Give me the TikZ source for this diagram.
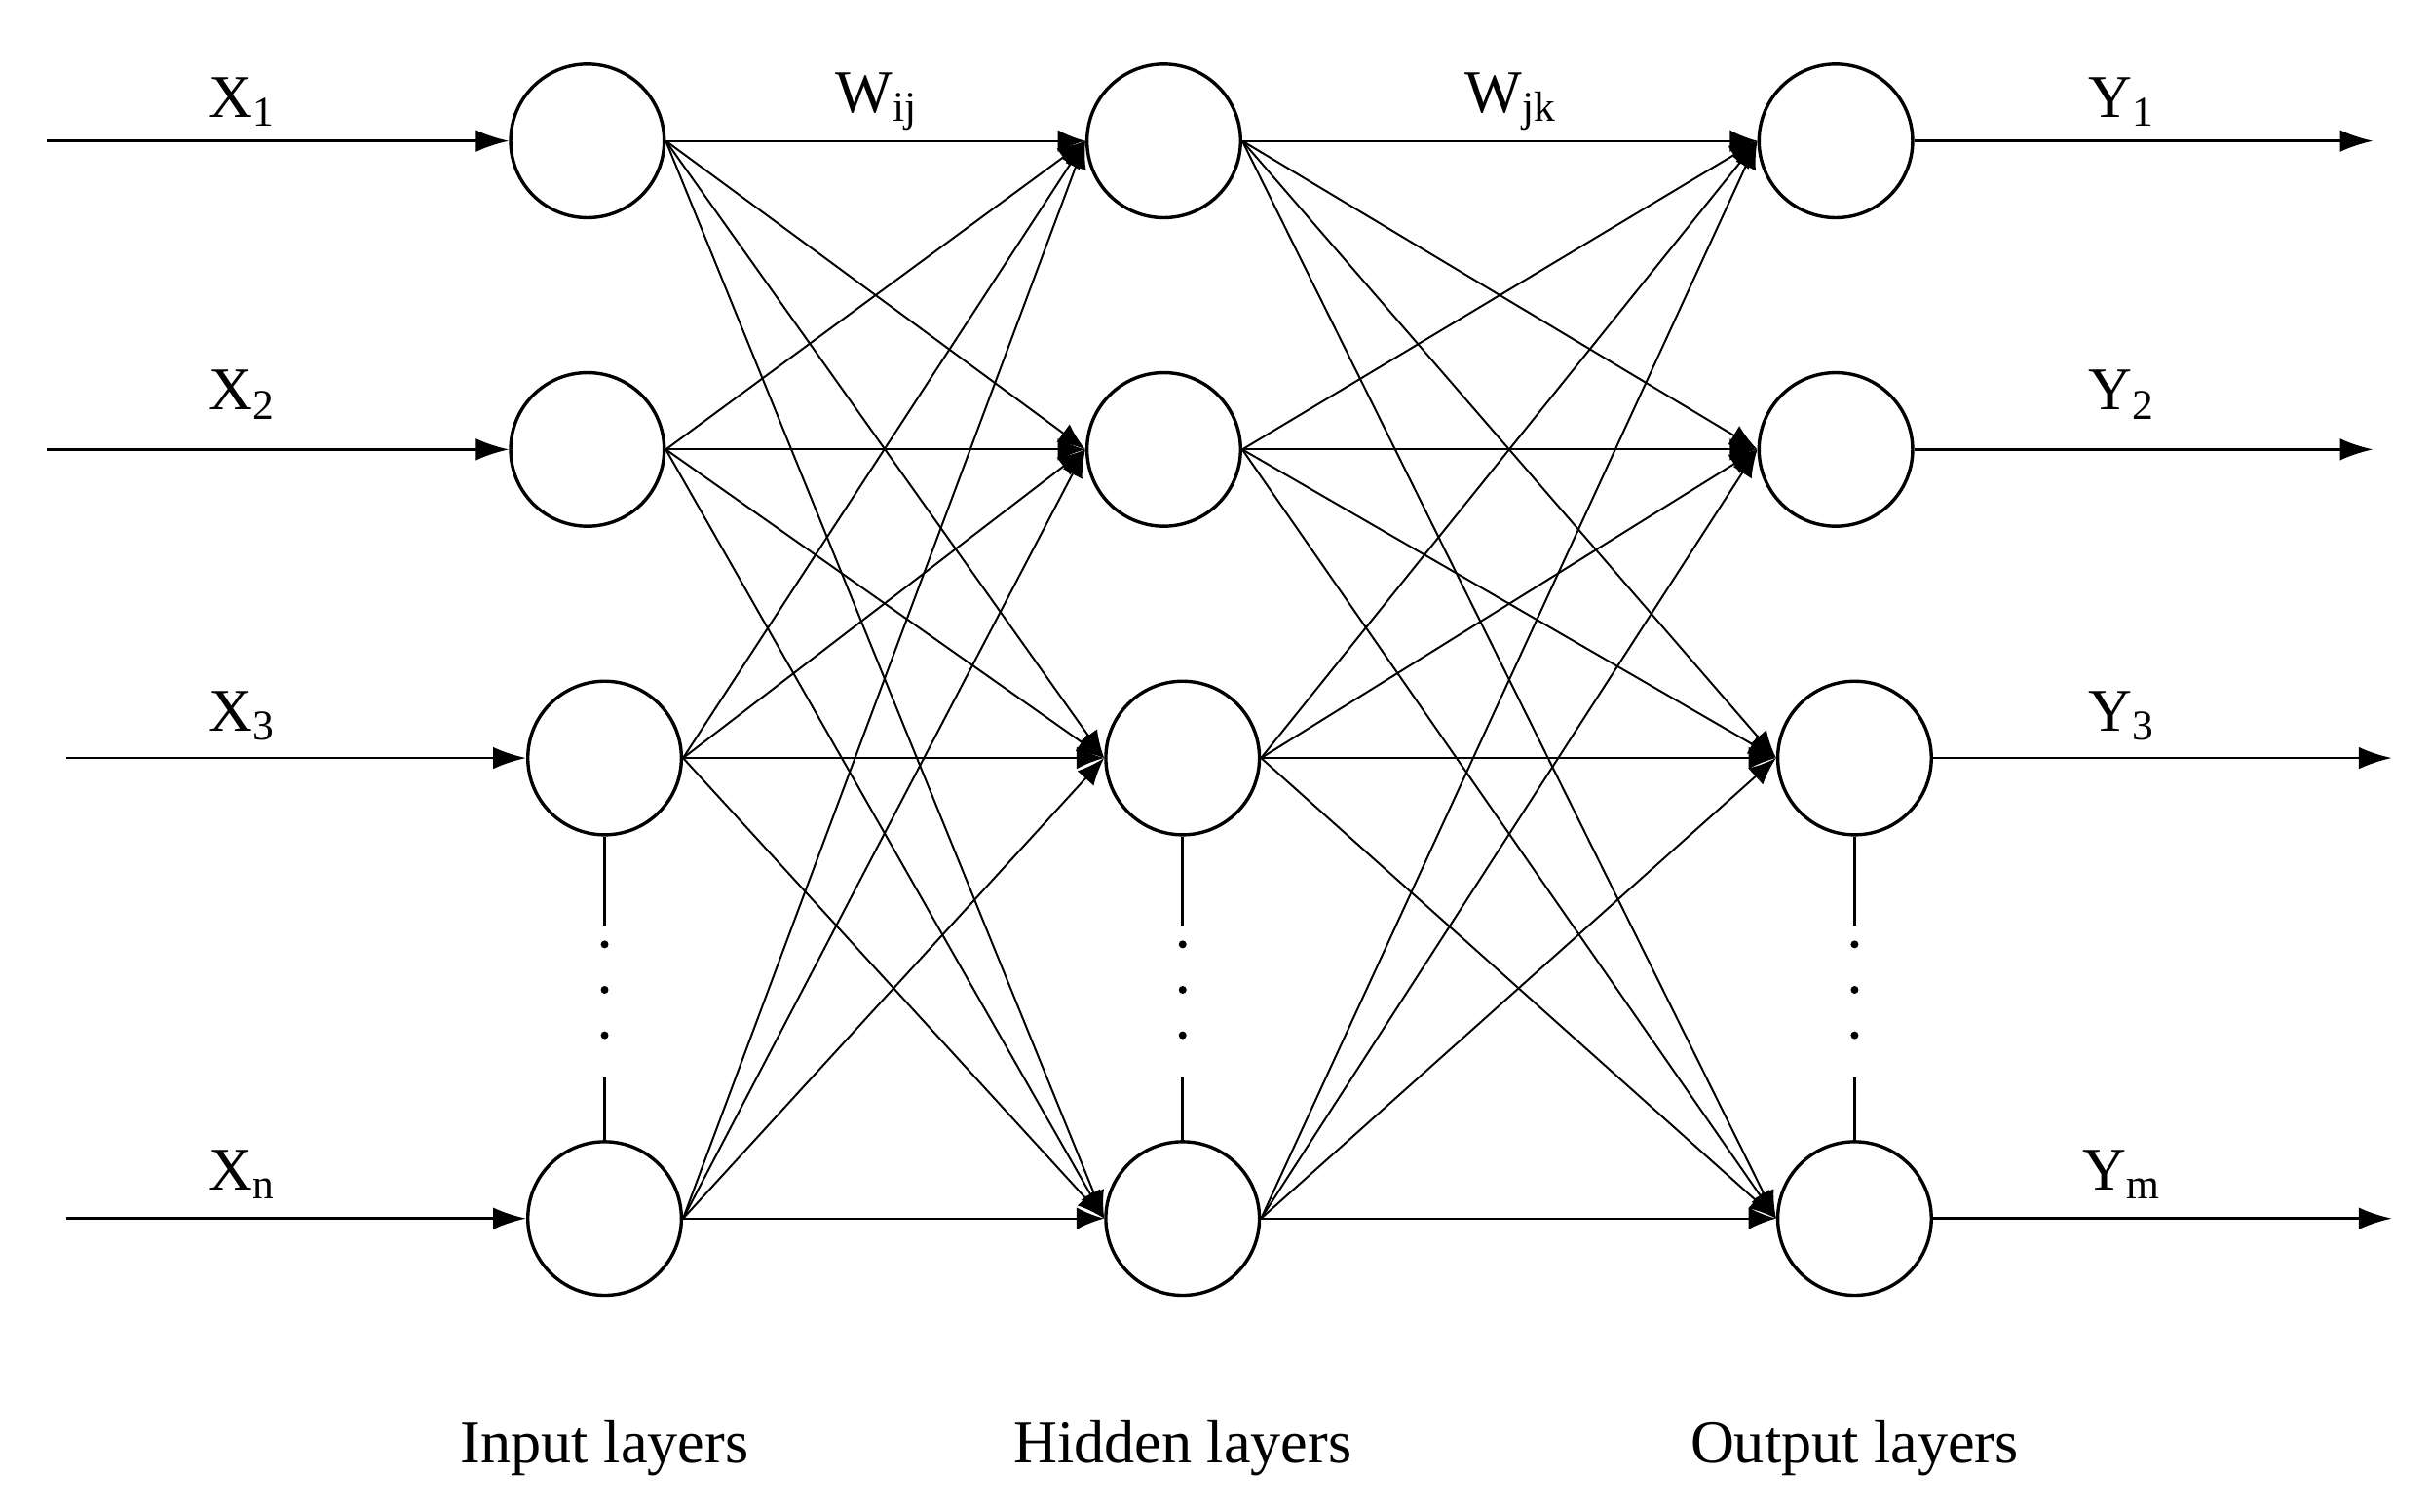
\documentclass[tikz,border=0pt]{standalone}
\usepackage{fontspec}
\setmainfont{Liberation Serif}
\usetikzlibrary{arrows.meta,calc}
\begin{document}
\begin{tikzpicture}[x=0.01cm,y=-0.01cm,
  neuron/.style={circle,draw,line width=0.6pt,minimum size=0.98cm,inner sep=0pt},
  conn/.style={line width=0.35pt,-{Latex[length=5pt,width=4pt]}},
  io/.style={line width=0.5pt,-{Latex[length=6pt,width=4pt]}},
  lab/.style={font=\fontsize{11}{13}\selectfont},
  dots/.style={line width=0.6pt}]
\useasboundingbox (0,0) rectangle (1552,965);
\node[neuron] (i1) at (375,90) {};
\node[neuron] (i2) at (375,287) {};
\node[neuron] (i3) at (386,484) {};
\node[neuron] (i4) at (386,778) {};
\node[neuron] (h1) at (743,90) {};
\node[neuron] (h2) at (743,287) {};
\node[neuron] (h3) at (755,484) {};
\node[neuron] (h4) at (755,778) {};
\node[neuron] (o1) at (1172,90) {};
\node[neuron] (o2) at (1172,287) {};
\node[neuron] (o3) at (1184,484) {};
\node[neuron] (o4) at (1184,778) {};
\coordinate (a1) at (30,90); \coordinate (a2) at (30,287);
\coordinate (a3) at (42,484); \coordinate (a4) at (42,778);
\coordinate (b1) at (1515,90); \coordinate (b2) at (1515,287);
\coordinate (b3) at (1527,484); \coordinate (b4) at (1527,778);
\foreach \k in {1,...,4}{
  \draw[io] (a\k) -- (i\k.west);
  \draw[io] (o\k.east) -- (b\k);
  \foreach \j in {1,...,4}{
    \draw[conn] (i\k.east) -- (h\j.west);
    \draw[conn] (h\k.east) -- (o\j.west);
  }}
\foreach \c/\xx in {i/386,h/755,o/1184}{
  \draw[dots] (\c3.south) -- ++(0,57);
  \draw[dots] (\c4.north) -- ++(0,-40);
  \node[circle,fill,inner sep=0.5pt] (\c d1) at (\xx,603) {};
  \node[circle,fill,inner sep=0.5pt] (\c d2) at (\xx,632) {};
  \node[circle,fill,inner sep=0.5pt] (\c d3) at (\xx,661) {};
}
\node[lab] (x1) at (155,65) {X\textsubscript{1}};
\node[lab] (x2) at (155,252) {X\textsubscript{2}};
\node[lab] (x3) at (155,457) {X\textsubscript{3}};
\node[lab] (xn) at (155,750) {X\textsubscript{n}};
\node[lab] (y1) at (1355,65) {Y\textsubscript{1}};
\node[lab] (y2) at (1355,252) {Y\textsubscript{2}};
\node[lab] (y3) at (1355,457) {Y\textsubscript{3}};
\node[lab] (ym) at (1355,750) {Y\textsubscript{m}};
\node[lab] (wij) at (560,65) {W\textsubscript{ij}};
\node[lab] (wjk) at (965,65) {W\textsubscript{jk}};
\node[lab] (li) at (386,925) {Input layers};
\node[lab] (lh) at (755,925) {Hidden layers};
\node[lab] (lo) at (1184,925) {Output layers};
\end{tikzpicture}
\end{document}
